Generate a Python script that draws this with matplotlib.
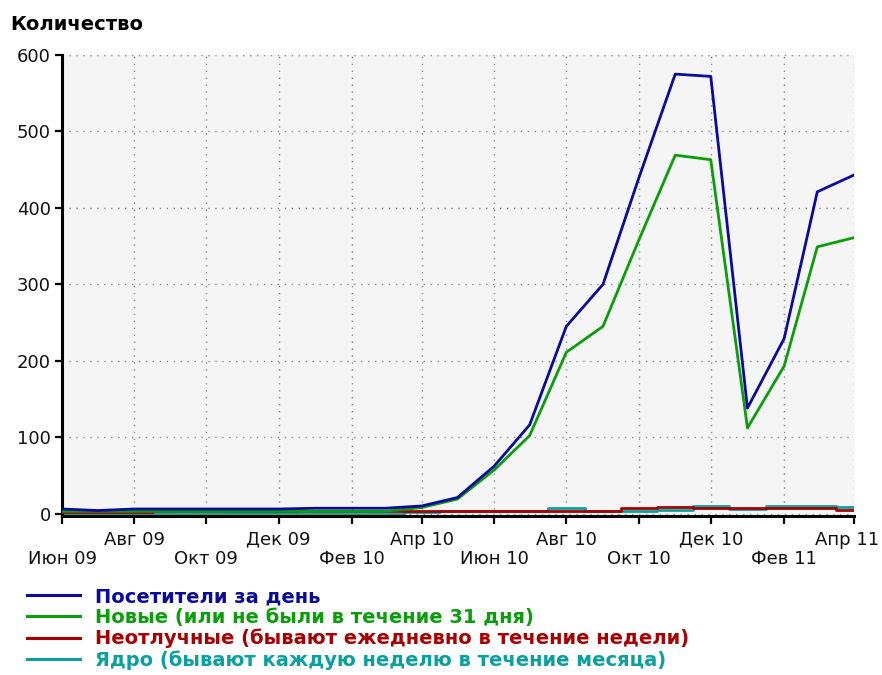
import matplotlib
matplotlib.use("Agg")
import matplotlib.pyplot as plt
import matplotlib.dates as mdates
import matplotlib.transforms as mtransforms
import pandas as pd

# monthly points, Jun 2009 .. Apr 2011
months = pd.date_range("2009-06-01", "2011-04-01", freq="MS")

visitors = [6, 4, 6, 6, 6, 6, 6, 7, 7, 7, 10, 21, 62, 116, 245, 300, 438,
            575, 572, 138, 229, 421, 443]
new_visitors = [3, 3, 3, 3, 3, 3, 3, 3, 3, 3, 8, 19, 57, 102, 211, 245, 357,
                469, 463, 112, 193, 349, 361]
regulars = [1.5, 1.5, 1.5, 3, 3, 3, 3, 3, 3, 3, 3, 4, 4, 4, 4, 4, 6.8,
            8.5, 6.8, 6.8, 6.8, 6.8, 4.2]
core = [0, 0, 0, 0, 0, 1, 1, 0, 0, 0, 2, 3, 3, 3, 7.6, 3, 4,
        5, 9.4, 6.5, 9.4, 9.4, 8.1]

series_names = ["Посетители за день",
                "Новые (или не были в течение 31 дня)",
                "Неотлучные (бывают ежедневно в течение недели)",
                "Ядро (бывают каждую неделю в течение месяца)"]
colors = ["#0a0aa0", "#0a9f0a", "#a80000", "#0aa0a0"]

upper_ticks = ["2009-08-01", "2009-12-01", "2010-04-01",
               "2010-08-01", "2010-12-01", "2011-04-01"]
upper_labels = ["Авг 09", "Дек 09", "Апр 10", "Авг 10", "Дек 10", "Апр 11"]
lower_ticks = ["2009-06-01", "2009-10-01", "2010-02-01",
               "2010-06-01", "2010-10-01", "2011-02-01"]
lower_labels = ["Июн 09", "Окт 09", "Фев 10", "Июн 10", "Окт 10", "Фев 11"]

plt.rcParams["font.family"] = ["DejaVu Sans"]

fig = plt.figure(figsize=(8.82, 6.75), dpi=100)
ax = fig.add_axes([62 / 882, 1 - 515.5 / 675, (854 - 62) / 882, (515.5 - 55) / 675])
ax.set_facecolor("#f5f5f5")

lw = 2.0
ax.plot(months, visitors, color=colors[0], lw=lw, zorder=5, label=series_names[0])
ax.plot(months, new_visitors, color=colors[1], lw=lw, zorder=4, label=series_names[1])
ax.plot(months, regulars, color=colors[2], lw=lw, zorder=3, drawstyle="steps-mid",
        label=series_names[2])
ax.plot(months, core, color=colors[3], lw=lw, zorder=2, drawstyle="steps-mid",
        label=series_names[3])

ax.set_xlim(months[0], months[-1])
ax.set_ylim(-2.5, 600)
ax.set_yticks(range(0, 601, 100))

up = mdates.date2num(pd.to_datetime(upper_ticks))
lo = mdates.date2num(pd.to_datetime(lower_ticks))
ax.set_xticks(up)
ax.set_xticklabels(upper_labels)
ax.set_xticks(lo, minor=True)
ax.set_xticklabels(lower_labels, minor=True)

ax.tick_params(axis="x", which="both", length=6, width=1.6, color="black",
               labelsize=13, labelcolor="#111111")
ax.tick_params(axis="x", which="major", pad=5)
ax.tick_params(axis="x", which="minor", pad=19)
ax.tick_params(axis="y", length=5, width=1.6, labelsize=13, pad=3,
               labelcolor="#111111")

grid_style = dict(color="#8c8c8c", linestyle=(0, (1, 4)), lw=1)
ax.grid(True, which="both", axis="x", **grid_style)
ax.grid(True, which="major", axis="y", **grid_style)
ax.set_axisbelow(True)

for s in ["top", "right"]:
    ax.spines[s].set_visible(False)
for s in ["left", "bottom"]:
    ax.spines[s].set_linewidth(2.2)
    ax.spines[s].set_color("black")

# last label sits a little left so it stays inside the picture
last = ax.xaxis.get_major_ticks()[-1].label1
last.set_transform(last.get_transform() +
                   mtransforms.ScaledTranslation(-5 / 72, 0, fig.dpi_scale_trans))

fig.text(10 / 882, 1 - 24 / 675, "Количество", fontsize=14, fontweight="bold",
         va="center", ha="left")

leg = fig.legend(loc="upper left", bbox_to_anchor=(27 / 882, 1 - 587 / 675),
                 frameon=False, handlelength=2.7, handletextpad=0.8,
                 labelspacing=0.1, borderpad=0, borderaxespad=0,
                 prop={"size": 14, "weight": "bold"})
for txt, c in zip(leg.get_texts(), colors):
    txt.set_color(c)
for h in leg.get_lines():
    h.set_linewidth(2.2)

fig.savefig("out.png", dpi=100)
